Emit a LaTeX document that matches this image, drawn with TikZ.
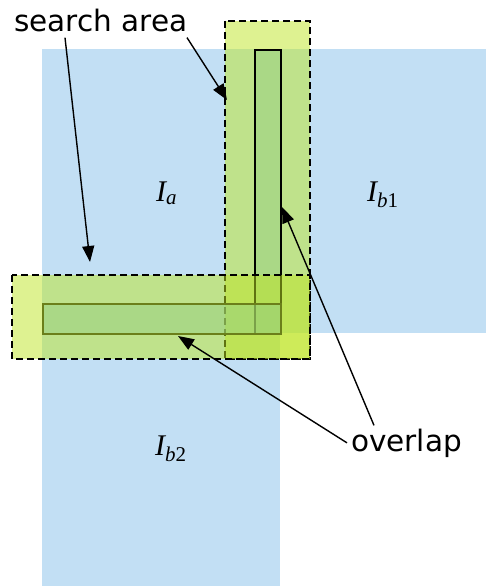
\documentclass[tikz,border=0pt]{standalone}
\usepackage{fontspec}
\setmainfont{Liberation Serif}
\newfontfamily\labelfont{DejaVu Sans}
\usetikzlibrary{arrows.meta,positioning}
\definecolor{imgblue}{RGB}{194,223,244}
\definecolor{areagreen}{RGB}{190,229,35}
\definecolor{overgreen}{RGB}{150,208,130}
\definecolor{olivedark}{RGB}{107,127,26}

\begin{document}
\begin{tikzpicture}[x=1pt,y=-1pt,
    area/.style={draw,dash pattern=on 7pt off 4pt,line width=1.7pt,fill=areagreen,fill opacity=0.5},
    overlapbox/.style={fill=overgreen,fill opacity=0.5,line width=1.2pt},
    callout/.style={font=\labelfont\fontsize{29.5}{34}\selectfont,inner sep=0pt,anchor=base west},
    imglabel/.style={font=\fontsize{30}{34}\selectfont\itshape,inner sep=0pt,anchor=base west},
    pointer/.style={line width=1.4pt,-{Triangle[length=16pt,width=12pt]}}]
  \useasboundingbox (0,0) rectangle (486,586);

  % the three images
  \fill[imgblue] (42,49) rectangle (310,333);
  \fill[imgblue] (225,49) rectangle (486,333);
  \fill[imgblue] (42,275) rectangle (280,586);

  % search areas and overlaps
  \draw[area] (225,21) rectangle (310,359);
  \draw[overlapbox] (255,50) rectangle (281,334);
  \draw[area] (12,275) rectangle (310,359);
  \draw[overlapbox,draw=olivedark] (43,304) rectangle (281,334);

  \node[imglabel] (ia) at (156,201) {I\textsubscript{a}};
  \node[imglabel] (ib1) at (367,201) {I\textsubscript{b{\upshape 1}}};
  \node[imglabel] (ib2) at (155,455) {I\textsubscript{b{\upshape 2}}};

  \node[callout] (search) at (14,32) {search area};
  \node[callout] (ovl) at (351,451) {overlap};

  \coordinate (areaH) at (90,262);
  \coordinate (areaV) at (227,100);
  \coordinate (ovlV) at (282,207);
  \coordinate (ovlH) at (178,336);

  \draw[pointer] ([xshift=51pt,yshift=-5pt]search.south west) -- (areaH);
  \draw[pointer] ([xshift=173pt,yshift=-5pt]search.south west) -- (areaV);
  \draw[pointer] ([xshift=23pt,yshift=3pt]ovl.north west) -- (ovlV);
  \draw[pointer] ([xshift=-4pt]ovl.west) -- (ovlH);
\end{tikzpicture}
\end{document}
